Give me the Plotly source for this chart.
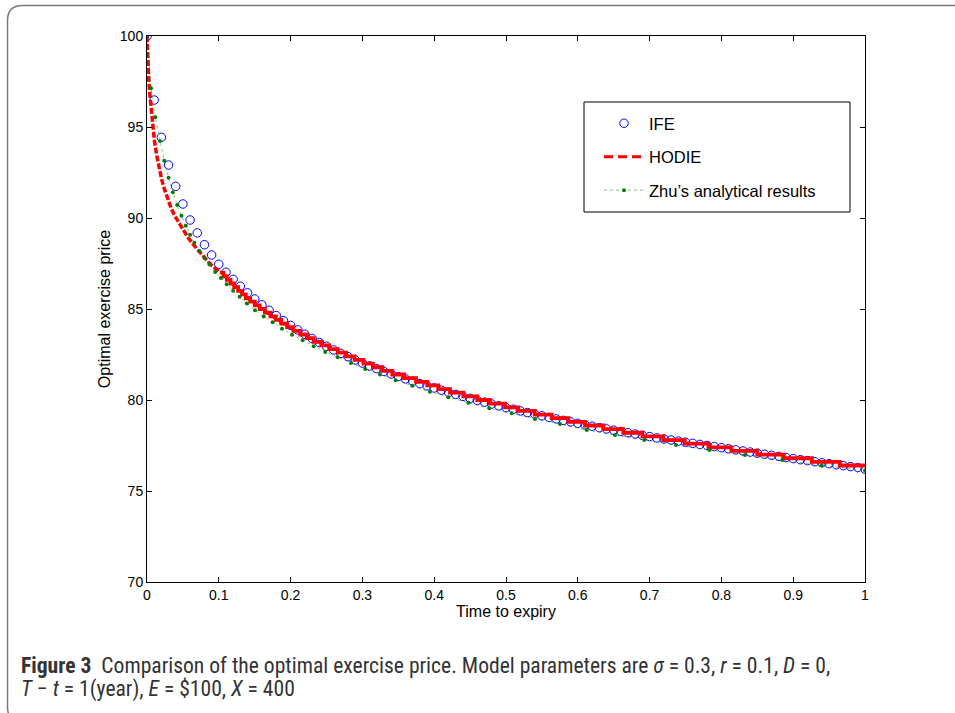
import plotly.graph_objects as go

# ---------------- data ----------------
ife_time = [0.00, 0.01, 0.02, 0.03, 0.04, 0.05, 0.06, 0.07, 0.08, 0.09,
            0.10, 0.11, 0.12, 0.13, 0.14, 0.15, 0.16, 0.17, 0.18, 0.19,
            0.20, 0.21, 0.22, 0.23, 0.24, 0.25, 0.26, 0.27, 0.28, 0.29,
            0.30, 0.31, 0.32, 0.33, 0.34, 0.35, 0.36, 0.37, 0.38, 0.39,
            0.40, 0.41, 0.42, 0.43, 0.44, 0.45, 0.46, 0.47, 0.48, 0.49,
            0.50, 0.51, 0.52, 0.53, 0.54, 0.55, 0.56, 0.57, 0.58, 0.59,
            0.60, 0.61, 0.62, 0.63, 0.64, 0.65, 0.66, 0.67, 0.68, 0.69,
            0.70, 0.71, 0.72, 0.73, 0.74, 0.75, 0.76, 0.77, 0.78, 0.79,
            0.80, 0.81, 0.82, 0.83, 0.84, 0.85, 0.86, 0.87, 0.88, 0.89,
            0.90, 0.91, 0.92, 0.93, 0.94, 0.95, 0.96, 0.97, 0.98, 0.99,
            1.00]
ife_price = [100.00, 96.48, 94.43, 92.91, 91.74, 90.77, 89.89, 89.18, 88.53, 87.97,
             87.46, 87.02, 86.63, 86.25, 85.89, 85.55, 85.23, 84.93, 84.64, 84.36,
             84.10, 83.85, 83.61, 83.38, 83.16, 82.95, 82.75, 82.56, 82.38, 82.20,
             82.03, 81.87, 81.72, 81.57, 81.43, 81.29, 81.16, 81.03, 80.90, 80.78,
             80.66, 80.54, 80.42, 80.31, 80.20, 80.09, 79.98, 79.88, 79.78, 79.68,
             79.58, 79.49, 79.40, 79.31, 79.22, 79.13, 79.04, 78.96, 78.88, 78.80,
             78.72, 78.64, 78.56, 78.48, 78.41, 78.34, 78.27, 78.20, 78.13, 78.06,
             77.99, 77.92, 77.86, 77.80, 77.74, 77.68, 77.62, 77.56, 77.50, 77.44,
             77.38, 77.32, 77.26, 77.20, 77.14, 77.08, 77.02, 76.96, 76.90, 76.84,
             76.78, 76.72, 76.67, 76.61, 76.55, 76.50, 76.44, 76.39, 76.34, 76.29,
             76.20]

# HODIE: steep early part (continuous) and the stepped part
hodie_time_early = [0, 0.001, 0.0025, 0.0042, 0.006, 0.0079, 0.0105, 0.0135, 0.017,
                    0.0205, 0.025, 0.0297, 0.034, 0.039, 0.045, 0.0506, 0.057, 0.0645,
                    0.071, 0.0784, 0.086, 0.0947, 0.1018]
hodie_price_early = [100, 98.6, 97.5, 96.7, 95.85, 95.1, 94.2, 93.45, 92.75,
                     92.1, 91.5, 90.95, 90.5, 90.1, 89.68, 89.3, 88.93, 88.55,
                     88.22, 87.9, 87.55, 87.25, 87.0]
hodie_time_steps = [0.1018, 0.1065, 0.1112, 0.1163, 0.1214, 0.1269, 0.1324, 0.1376,
                    0.1436, 0.1501, 0.1570, 0.1642, 0.1719, 0.1795, 0.1869, 0.1952,
                    0.2039, 0.2135, 0.2228, 0.2321, 0.2426, 0.2537, 0.2656, 0.2772,
                    0.2891, 0.3015, 0.3146, 0.3279, 0.3416, 0.358, 0.3747, 0.3904,
                    0.4057, 0.422, 0.4406, 0.460, 0.4777, 0.4986, 0.517, 0.540,
                    0.5636, 0.587, 0.610, 0.6355, 0.6634, 0.690, 0.719, 0.749,
                    0.782, 0.814, 0.850, 0.887, 0.926, 0.965, 1.0]
hodie_price_steps = [87.0, 86.8, 86.6, 86.4, 86.2, 86.0, 85.8, 85.6,
                     85.4, 85.2, 85.0, 84.8, 84.6, 84.4, 84.2, 84.0,
                     83.8, 83.6, 83.4, 83.2, 83.0, 82.8, 82.6, 82.4,
                     82.2, 82.0, 81.8, 81.6, 81.4, 81.2, 81.0, 80.8,
                     80.6, 80.4, 80.2, 80.0, 79.8, 79.6, 79.4, 79.2,
                     79.0, 78.8, 78.6, 78.4, 78.2, 78.0, 77.8, 77.6,
                     77.4, 77.2, 77.0, 76.8, 76.6, 76.4, 76.4]

zhu_time = [0, 0.0056, 0.0116, 0.018, 0.024, 0.030, 0.036, 0.042, 0.048, 0.054,
            0.060, 0.066, 0.073, 0.080, 0.087, 0.095, 0.103, 0.111, 0.120, 0.129,
            0.139, 0.1505, 0.1625, 0.175, 0.188, 0.202, 0.2168, 0.2321, 0.2483, 0.2656,
            0.2841, 0.304, 0.3245, 0.3464, 0.3695, 0.394, 0.4197, 0.4475, 0.4768, 0.508,
            0.5404, 0.5752, 0.6124, 0.6518, 0.6926, 0.7368, 0.7832, 0.8329, 0.8848, 0.9396,
            1.0]
zhu_price = [100, 97.13, 95.53, 94.23, 93.15, 92.21, 91.41, 90.71, 90.13, 89.58,
             89.08, 88.64, 88.18, 87.80, 87.45, 87.03, 86.70, 86.36, 86.00, 85.67,
             85.30, 84.93, 84.59, 84.27, 83.92, 83.59, 83.28, 82.95, 82.64, 82.35,
             82.03, 81.71, 81.40, 81.08, 80.78, 80.46, 80.15, 79.85, 79.54, 79.27,
             78.96, 78.68, 78.35, 78.08, 77.80, 77.53, 77.25, 76.98, 76.70, 76.41,
             76.12]

x_ticks = [0, 0.1, 0.2, 0.3, 0.4, 0.5, 0.6, 0.7, 0.8, 0.9, 1]
x_ticktext = ["0", "0.1", "0.2", "0.3", "0.4", "0.5", "0.6", "0.7", "0.8", "0.9", "1"]
y_ticks = [70, 75, 80, 85, 90, 95, 100]

# ---------------- layout helpers (pixel -> paper) ----------------
W, H = 955, 713
ML, MR, MT, MB = 147, 90, 36, 131
PW, PH = W - ML - MR, H - MT - MB


def px(x):
    return (x - ML) / PW


def py(y):
    return (MT + PH - y) / PH


AX_FONT = "Liberation Sans, Arial, Helvetica, sans-serif"

fig = go.Figure()

fig.add_trace(go.Scatter(
    x=ife_time, y=ife_price, mode="markers", name="IFE",
    marker=dict(symbol="circle-open", size=8.5, color="#0000ff", line=dict(width=1, color="#0000ff")),
    legendgroup="a",
))
fig.add_trace(go.Scatter(
    x=hodie_time_early, y=hodie_price_early, mode="lines", name="HODIE",
    line=dict(color="#ff0000", width=3.5, dash="6px,2px"),
    legendgroup="b", showlegend=False,
))
fig.add_trace(go.Scatter(
    x=hodie_time_steps, y=hodie_price_steps, mode="lines", name="HODIE",
    line=dict(color="#ff0000", width=3.8, shape="hv"),
    legendgroup="b", showlegend=False,
))
# legend sample for HODIE (dashed)
fig.add_trace(go.Scatter(
    x=[None], y=[None], mode="lines", name="HODIE",
    line=dict(color="#ff0000", width=3, dash="9px,5px"),
    legendgroup="b",
))
fig.add_trace(go.Scatter(
    x=zhu_time, y=zhu_price, mode="lines+markers", name="Zhu\u2019s analytical results",
    line=dict(color="rgba(0,128,0,0.45)", width=1, dash="dot"),
    marker=dict(symbol="circle", size=4, color="#008000"),
    legendgroup="c",
))

fig.update_xaxes(
    range=[0, 1], tickvals=x_ticks, ticktext=x_ticktext,
    ticks="inside", ticklen=5, tickwidth=1, tickcolor="black",
    mirror="allticks", showline=True, linecolor="black", linewidth=1,
    showgrid=False, zeroline=False,
    tickfont=dict(family=AX_FONT, size=14, color="black"),
    title=dict(text="Time to expiry", font=dict(family=AX_FONT, size=16, color="black"), standoff=3),
)
fig.update_yaxes(
    range=[70, 100], tickvals=y_ticks,
    ticks="inside", ticklen=5, tickwidth=1, tickcolor="black",
    mirror="allticks", showline=True, linecolor="black", linewidth=1,
    showgrid=False, zeroline=False,
    tickfont=dict(family=AX_FONT, size=14, color="black"),
    title=dict(text="Optimal exercise price", font=dict(family=AX_FONT, size=16, color="black"), standoff=5),
)

# legend box and outer frame
shapes = [
    dict(type="rect", xref="paper", yref="paper",
         x0=px(584), x1=px(850), y0=py(212), y1=py(102),
         line=dict(color="black", width=1), fillcolor="rgba(0,0,0,0)", layer="above"),
]
r = 15
x0f, y0f, x1f, y1f = 7.5, 5.5, 990, 722
path = (f"M {px(x1f)},{py(y0f)} L {px(x0f + r)},{py(y0f)} "
        f"Q {px(x0f)},{py(y0f)} {px(x0f)},{py(y0f + r)} "
        f"L {px(x0f)},{py(y1f - r)} Q {px(x0f)},{py(y1f)} {px(x0f + r)},{py(y1f)} "
        f"L {px(x1f)},{py(y1f)}")
shapes.append(dict(type="path", xref="paper", yref="paper", path=path,
                   line=dict(color="#7a7a7a", width=1.5)))

CAP_FONT = "Liberation Sans Narrow, Roboto Condensed, Noto Sans, sans-serif"
caption_line1 = ("<b>Figure 3</b>  Comparison of the optimal exercise price. Model parameters are "
                 "<i>\u03c3</i> = 0.3, <i>r</i> = 0.1, <i>D</i> = 0,")
caption_line2 = "<i>T</i> \u2212 <i>t</i> = 1(year), <i>E</i> = $100, <i>X</i> = 400"

annotations = []
for txt, yc in [(caption_line1, 665), (caption_line2, 689)]:
    annotations.append(dict(text=txt, xref="paper", yref="paper",
                            x=px(19), y=py(yc), xanchor="left", yanchor="middle",
                            align="left", showarrow=False,
                            font=dict(family=CAP_FONT, size=21.6, color="#333333")))

fig.update_layout(
    width=W, height=H,
    margin=dict(l=ML, r=MR, t=MT, b=MB, autoexpand=False),
    paper_bgcolor="white", plot_bgcolor="white",
    showlegend=True,
    legend=dict(x=px(599), y=py(106), xanchor="left", yanchor="top",
                bgcolor="rgba(0,0,0,0)", borderwidth=0,
                font=dict(family=AX_FONT, size=16.5, color="black"),
                itemwidth=40, tracegroupgap=9, traceorder="grouped"),
    shapes=shapes,
    annotations=annotations,
)

fig.write_html(
    "out.html",
    config={"displayModeBar": False},
    post_script="document.body.style.margin='0';document.documentElement.style.overflow='hidden';",
)
